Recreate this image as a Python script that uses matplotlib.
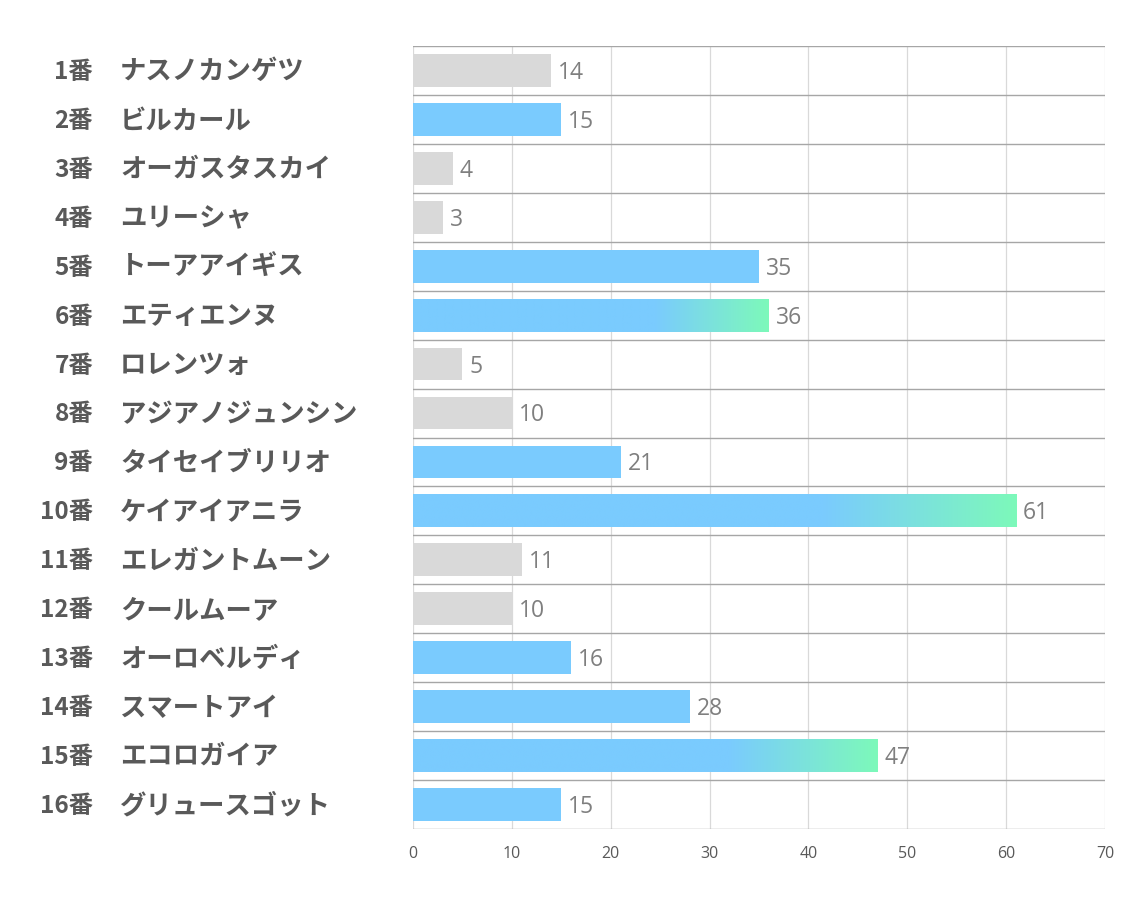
import matplotlib
matplotlib.use("Agg")
import matplotlib.pyplot as plt
import numpy as np
from matplotlib.colors import to_rgb

numbers = ["1番", "2番", "3番", "4番", "5番", "6番", "7番", "8番",
           "9番", "10番", "11番", "12番", "13番", "14番", "15番", "16番"]
names = ["ナスノカンゲツ", "ビルカール", "オーガスタスカイ", "ユリーシャ", "トーアアイギス",
         "エティエンヌ", "ロレンツォ", "アジアノジュンシン", "タイセイブリリオ", "ケイアイアニラ",
         "エレガントムーン", "クールムーア", "オーロベルディ", "スマートアイ", "エコロガイア",
         "グリュースゴット"]
values = [14, 15, 4, 3, 35, 36, 5, 10, 21, 61, 11, 10, 16, 28, 47, 15]
styles = ["gray", "blue", "gray", "gray", "blue", "grad", "gray", "gray",
          "blue", "grad", "gray", "gray", "blue", "blue", "grad", "blue"]
xticks = [0, 10, 20, 30, 40, 50, 60, 70]

GRAY = "#D9D9D9"
BLUE = "#7ACBFE"
GREEN = "#7DF9BA"
TEXT = "#595959"

fig = plt.figure(figsize=(11.34, 9.07), dpi=100)
ax = fig.add_axes([413/1134, 1-829/907, (1105-413)/1134, (829-46)/907])

n = len(values)
bh = 0.67

b = np.array(to_rgb(BLUE))
g = np.array(to_rgb(GREEN))
for i, (v, s) in enumerate(zip(values, styles)):
    if s == "grad":
        t = np.linspace(0, 1, 400)
        t0 = 0.68
        f = np.clip((t - t0) / (1 - t0), 0, 1)
        img = b[None, :] * (1 - f[:, None]) + g[None, :] * f[:, None]
        ax.imshow(img[None, :, :], extent=[0, v, i + bh/2, i - bh/2],
                  aspect="auto", zorder=2, interpolation="bilinear")
    else:
        ax.barh(i, v, height=bh, color=GRAY if s == "gray" else BLUE, zorder=2)
    ax.text(v + 0.7, i + 0.05, str(v), va="center", ha="left", fontsize=16.5,
            color="#7F7F7F", family=["Open Sans", "DejaVu Sans"], zorder=3)

ax.set_ylim(n - 0.5, -0.5)
ax.set_xlim(0, 70)

for x in xticks:
    ax.axvline(x, color="#D9D9D9", lw=0.9, zorder=1)
for k in range(n + 1):
    ax.axhline(k - 0.5, color="#A6A6A6", lw=1.0, zorder=1)

for sp in ax.spines.values():
    sp.set_visible(False)
ax.set_yticks([])
ax.set_xticks(xticks)
ax.set_xticklabels([str(x) for x in xticks], fontsize=11.5, color=TEXT,
                   family=["Open Sans", "DejaVu Sans"])
ax.tick_params(axis="x", length=0, pad=12)

for i in range(n):
    ax.annotate(numbers[i], xy=(93/1134, i + 0.03), xycoords=("figure fraction", "data"),
                ha="right", va="center", fontsize=17.5, fontweight="bold", color=TEXT,
                family=["Noto Sans CJK JP", "DejaVu Sans"], annotation_clip=False)
    ax.annotate(names[i], xy=(120/1134, i + 0.03), xycoords=("figure fraction", "data"),
                ha="left", va="center", fontsize=19, fontweight="bold", color=TEXT,
                family=["Noto Sans CJK JP", "DejaVu Sans"], annotation_clip=False)

fig.savefig("out.png", dpi=100, facecolor="white")
